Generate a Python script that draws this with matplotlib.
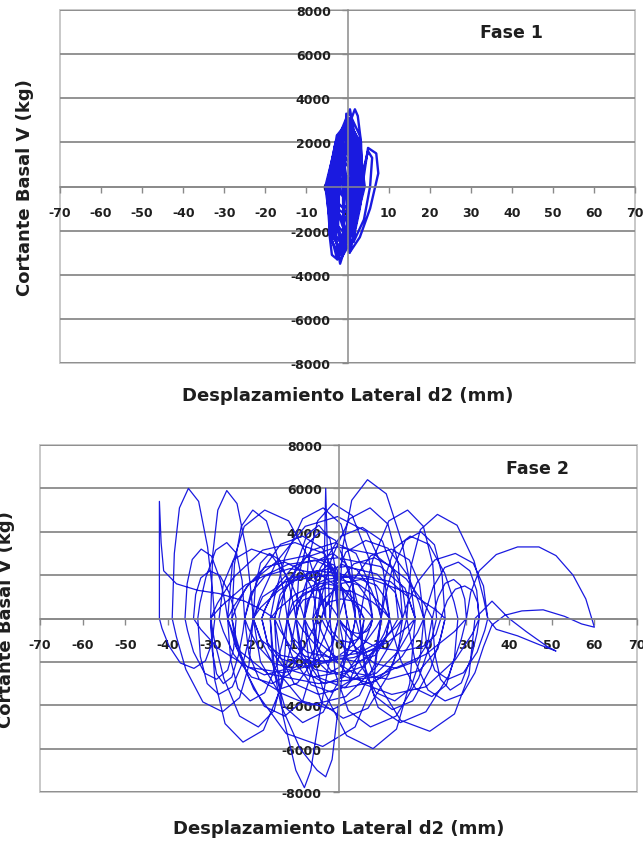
import matplotlib
matplotlib.use('Agg')
import matplotlib.pyplot as plt
from matplotlib.patches import Rectangle

plt.rcParams['font.family'] = ['DejaVu Sans']

# ---------------- data ----------------
x_ticks = list(range(-70, 71, 10))
y_ticks = list(range(-8000, 8001, 2000))
x_label = 'Desplazamiento Lateral d2 (mm)'
y_label = 'Cortante Basal V (kg)'
phase_labels = ['Fase 1', 'Fase 2']

# Fase 1: lateral displacement d2 (mm) and base shear V (kg), loop by loop
d1 = [0.5, 3.0, 3.4, 1.4, -1.7, -4.2, -4.6, -2.6,
      0.4, 2.55, 2.9, 1.15, -1.6, -3.75, -4.1, -2.35,
      0.3, 3.2, 3.9, 1.9, -1.5, -4.4, -5.1, -3.1,
      0.6, 1.6, 1.4, 0, -1.8, -2.8, -2.6, -1.2,
      0.1, 3.2, 4.2, 2.3, -1.3, -4.4, -5.4, -3.5,
      0.4, 2.1, 2.2, 0.6, -1.6, -3.3, -3.4, -1.8,
      -0.5, 0.8, 1.8, 2.5, 3.3, 3.5, 2.5, 0.5, -1, -0.5,
      -0.1, 2.4, 3.2, 1.7, -1.1, -3.6, -4.4, -2.9,
      0.3, 1.1, 0.9, -0.2, -1.5, -2.3, -2.1, -1.0,
      0.5, 3, 5.5, 7.5, 7, 5, 4, 3, 1.5, 0.5,
      0.2, 2.0, 2.4, 1.0, -1.4, -3.2, -3.6, -2.2,
      -0.3, 1.4, 1.9, 0.9, -0.9, -2.6, -3.1, -2.1,
      0, 0.9, 0.9, 0, -1.2, -2.1, -2.1, -1.2,
      -1, -2.5, -3.8, -4.5, -3, -1, 0, -1,
      -0.3, 1.1, 1.1, -0.4, -2.5, -3.9, -3.9, -2.4,
      1.1, 2.9, 3.2, 1.7, -0.7, -2.5, -2.8, -1.3,
      1.5, 4, 5.5, 6, 5, 3.5, 2, 1.5,
      0.4, 3.0, 3.6, 1.7, -1.6, -4.2, -4.8, -2.9,
      0.2, 1.5, 1.6, 0.4, -1.4, -2.7, -2.8, -1.6,
      -0.2, 2.6, 3.6, 2.1, -1.0, -3.8, -4.8, -3.3,
      -0.4, 0.4, 0.6, 0.1, -0.8, -1.6, -1.8, -1.3, -0.4]
v1 = [3300, 2310, 0, -2310, -3300, -2310, 0, 2310,
      3000, 2100, 0, -2100, -3000, -2100, 0, 2100,
      2600, 1820, 0, -1820, -2600, -1820, 0, 1820,
      3500, 2450, 0, -2450, -3500, -2450, 0, 2450,
      2000, 1400, 0, -1400, -2000, -1400, 0, 1400,
      3100, 2170, 0, -2170, -3100, -2170, 0, 2170,
      1500, 3000, 3500, 3200, 2000, 500, -800, -500, 800, 1500,
      1500, 1050, 0, -1050, -1500, -1050, 0, 1050,
      2800, 1960, 0, -1960, -2800, -1960, 0, 1960,
      -3000, -2300, -1000, 600, 1500, 1750, 500, -1000, -2300, -3000,
      2300, 1610, 0, -1610, -2300, -1610, 0, 1610,
      1000, 700, 0, -700, -1000, -700, 0, 700,
      1800, 1260, 0, -1260, -1800, -1260, 0, 1260,
      -2000, -3300, -3100, -2000, -1000, -1500, -2500, -2000,
      3300, 2310, 0, -2310, -3300, -2310, 0, 2310,
      2700, 1890, 0, -1890, -2700, -1890, 0, 1890,
      -2500, -1500, 0, 1300, 1600, 500, -1200, -2500,
      2900, 2030, 0, -2030, -2900, -2030, 0, 2030,
      2400, 1680, 0, -1680, -2400, -1680, 0, 1680,
      1200, 840, 0, -840, -1200, -840, 0, 840,
      500, 350, 0, -350, -500, -350, 0, 350, 500]

# Fase 2, half-cycle by half-cycle
d2 = [0,
      -0.3, -1, -2.3, -3.7, -5, -5.7, -6,
      -5.5, -4.3, -2.2, 0.2, 2.3, 3.5, 4,
      3.3, 1.6, -1.3, -4.7, -7.6, -9.3, -10,
      -9.1, -7, -3.2, 1.2, 4.9, 7.1, 8,
      6.9, 4.1, -0.7, -6.3, -11.1, -13.9, -15,
      -13.7, -10.4, -4.7, 1.7, 7.4, 10.7, 12,
      10.4, 6.6, -0.2, -7.8, -14.6, -18.4, -20,
      -18.3, -14, -6.7, 1.7, 9, 13.3, 15,
      14, 11.6, 7.4, 2.6, -1.6, -4, -5,
      -6, -8.4, -12.6, -17.4, -21.6, -24, -25,
      -24.4, -22.8, -20.1, -16.9, -14.2, -12.7, -12,
      -12.9, -15.1, -18.8, -23.2, -26.9, -29.1, -30,
      -29.5, -28.3, -26.2, -23.8, -21.7, -20.5, -20,
      -21, -23.2, -27.2, -31.8, -35.8, -38, -39,
      -38.5, -37.3, -35.2, -32.8, -30.7, -29.5, -29,
      -29.7, -31.2, -33.9, -37.1, -39.8, -41.4, -42,
      -42, -42, -41.6, -41, -38, -33, -28, -22, -18, -15,
      -14.5, -13, -10, -8, -6.5, -4.5, -2, 0,
      0.9, 3.1, 6.8, 11.2, 14.9, 17.1, 18,
      16.7, 13.6, 8.1, 1.9, -3.6, -6.7, -8,
      -7.1, -4.9, -1.2, 3.2, 6.9, 9.1, 10,
      8.2, 3.9, -3.7, -12.3, -19.9, -24.2, -26,
      -24.9, -22.1, -17.3, -11.7, -6.9, -4.2, -3,
      -3.3, -3, -2.6, -2,
      -0.8, 2.3, 7.5, 13.5, 18.8, 21.8, 23,
      22.1, 19.9, 16.2, 11.8, 8.1, 5.9, 5,
      6.3, 9.3, 14.5, 20.5, 25.8, 28.8, 30,
      31, 33, 37, 42, 47, 51, 55, 58, 60,
      57, 53, 48, 43, 39, 36, 34, 32, 29, 25, 21, 18, 16,
      17, 19.2, 23.2, 27.8, 31.8, 34, 35,
      37, 42, 47, 51, 49, 44, 40, 36, 32,
      30.6, 27.2, 21.4, 14.6, 8.8, 5.4, 4,
      3, 0.6, -3.6, -8.4, -12.6, -15, -16,
      -15.5, -13.5, -9, -5, -3, -1.5, 0, 1.5, 2,
      0.4, -3.4, -10.2, -17.8, -24.6, -28.4, -30,
      -29, -26.6, -22.4, -17.6, -13.4, -11, -10,
      -9.3, -7.5, -4.3, -0.7, 2.5, 4.3, 5,
      6, 8.4, 12.6, 17.4, 21.6, 24, 25,
      24.3, 22.5, 19.3, 15.7, 12.5, 10.7, 10,
      8.5, 4.9, -1.4, -8.6, -14.9, -18.5, -20,
      -19.5, -18.3, -16.2, -13.8, -11.7, -10.5, -10,
      -8.5, -4.9, 1.4, 8.6, 14.9, 18.5, 20,
      19, 16.6, 12.4, 7.6, 3.4, 1, 0,
      1.7, 5.6, 12.5, 20.5, 27.4, 31.4, 33,
      32.4, 30.8, 28.1, 24.9, 22.2, 20.7, 20,
      20.8, 22.6, 25.7, 29.3, 32.5, 34.3, 35,
      34, 31.6, 27.4, 22.6, 18.4, 16, 15,
      14, 11.6, 7.4, 2.6, -1.6, -4, -5,
      -6, -8.4, -12.6, -17.4, -21.6, -24, -25,
      -24, -21.6, -17.4, -12.6, -8.4, -6, -5,
      -4.3, -2.5, 0.7, 4.3, 7.5, 9.3, 10,
      8.8, 5.8, 0.5, -5.5, -10.8, -13.8, -15,
      -13.7, -10.4, -4.7, 1.7, 7.4, 10.7, 12,
      11, 8.6, 4.4, -0.4, -4.6, -7, -8,
      -7.3, -5.6, -2.7, 0.7, 3.6, 5.3, 6,
      5.5, 4.5, 2.6, 0.4, -1.5, -2.6, -3,
      -3.8, -5.6, -8.7, -12.3, -15.5, -17.3, -18,
      -16.7, -13.6, -8.1, -1.9, 3.6, 6.7, 8,
      7, 4.6, 0.4, -4.4, -8.6, -11, -12,
      -10.7, -7.4, -1.7, 4.7, 10.4, 13.7, 15,
      13.3, 9, 1.7, -6.7, -14, -18.3, -20,
      -18.1, -13.5, -5.6, 3.6, 11.5, 16.1, 18,
      15.6, 9.8, -0.2, -11.8, -21.8, -27.6, -30,
      -29.6, -28.6, -27, -25, -23.4, -22.4, -22,
      -22.6, -23.9, -26.2, -28.8, -31.1, -32.5, -33,
      -32.4, -30.8, -28.1, -24.9, -22.2, -20.7, -20,
      -17.8, -12.4, -2.9, 7.9, 17.4, 22.8, 25,
      23.3, 19, 11.7, 3.3, -4, -8.3, -10,
      -9.5, -8.3, -6.2, -3.8, -1.7, -0.5, 0,
      -1.1, -3.7, -8.4, -13.6, -18.3, -20.9, -22,
      -21, -18.6, -14.4, -9.6, -5.4, -3, -2,
      -0.9, 1.7, 6.4, 11.6, 16.3, 18.9, 20,
      19.1, 16.9, 13.2, 8.8, 5.1, 2.9, 2,
      1, -1.4, -5.6, -10.4, -14.6, -17, -18,
      -16.4, -12.6, -5.8, 1.8, 8.6, 12.4, 14,
      12.9, 10.3, 5.6, 0.4, -4.3, -6.9, -8,
      -9, -11.4, -15.6, -20.4, -24.6, -27, -28,
      -27, -24.6, -20.4, -15.6, -11.4, -9, -8,
      -6.8, -3.9, 1.1, 6.9, 11.9, 14.8, 16,
      15, 12.6, 8.4, 3.6, -0.6, -3, -4,
      -4.9, -7.1, -10.8, -15.2, -18.9, -21.1, -22,
      -20.6, -17.2, -11.4, -4.6, 1.2, 4.6, 6,
      5, 2.6, -1.6, -6.4, -10.6, -13, -14,
      -12.2, -7.9, -0.3, 8.3, 15.9, 20.2, 22,
      20.9, 18.3, 13.6, 8.4, 3.7, 1.1, 0,
      -0.6, -2, -4.6, -7.4, -10, -11.4, -12,
      -10.9, -8.3, -3.6, 1.6, 6.3, 8.9, 10,
      10.9, 13.1, 16.8, 21.2, 24.9, 27.1, 28,
      27.2, 25.3, 21.9, 18.1, 14.7, 12.8, 12,
      11.1, 8.9, 5.2, 0.8, -2.9, -5.1, -6,
      -4.8, -1.9, 3.1, 8.9, 13.9, 16.8, 18,
      16.3, 12.2, 5.1, -3.1, -10.2, -14.3, -16,
      -15, -12.6, -8.4, -3.6, 0.6, 3, 4,
      2.5, -1.1, -7.4, -14.6, -20.9, -24.5, -26,
      -25.3, -23.6, -20.7, -17.3, -14.4, -12.7, -12,
      -10.8, -7.9, -2.9, 2.9, 7.9, 10.8, 12,
      11.2, 9.3, 5.9, 2.1, -1.3, -3.2, -4,
      -3.4, -2, 0.6, 3.4, 6, 7.4, 8,
      7.6, 6.6, 5, 3, 1.4, 0.4, 0,
      -1.7, -5.8, -12.9, -21.1, -28.2, -32.3, -34,
      -33.5, -32.3, -30.2, -27.8, -25.7, -24.5, -24,
      -24.6, -26, -28.6, -31.4, -34, -35.4, -36,
      -35.5, -34.3, -32.2, -29.8, -27.7, -26.5, -26,
      -23.2, -16.5, -4.7, 8.7, 20.5, 27.2, 30,
      29.6, 28.6, 27, 25, 23.4, 22.4, 22,
      22.6, 23.9, 26.2, 28.8, 31.1, 32.5, 33,
      32.6, 31.5, 29.6, 27.4, 25.5, 24.5, 24,
      22.8, 19.9, 14.9, 9.1, 4.1, 1.2, 0]
v2 = [0,
      1250, 2100, 2500, 2250, 1400, 500, 0,
      -1250, -2100, -2500, -2250, -1400, -500, 0,
      1500, 2550, 3000, 2700, 1650, 600, 0,
      -1500, -2550, -3000, -2700, -1650, -600, 0,
      1750, 3000, 3500, 3150, 1900, 700, 0,
      -1750, -3000, -3500, -3150, -1900, -700, 0,
      2350, 4000, 4700, 4250, 2600, 950, 0,
      -2000, -3400, -4000, -3600, -2200, -800, 0,
      2550, 4350, 5100, 4600, 2800, 1000, 0,
      -2250, -3800, -4500, -4050, -2500, -900, 0,
      2500, 4250, 5000, 4500, 2750, 1000, 0,
      -2500, -4250, -5000, -4500, -2750, -1000, 0,
      2950, 5000, 5900, 5300, 3250, 1200, 0,
      -2150, -3650, -4300, -3850, -2350, -850, 0,
      3000, 5100, 6000, 5400, 3300, 1200, 0,
      -1150, -1950, -2300, -2050, -1250, -450, 0,
      2500, 5400, 3500, 2200, 1600, 1300, 1150, 800, 400, 0,
      -2000, -4500, -7000, -7800, -7000, -4500, -1800, 0,
      3200, 5450, 6400, 5750, 3500, 1300, 0,
      -3000, -5100, -6000, -5400, -3300, -1200, 0,
      2650, 4500, 5300, 4750, 2900, 1050, 0,
      -2950, -5000, -5900, -5300, -3250, -1200, 0,
      2500, 4250, 5000, 4500, 2750, 1000, 0,
      3000, 6000, 3000, 0,
      -2500, -4250, -5000, -4500, -2750, -1000, 0,
      2500, 4250, 5000, 4500, 2750, 1000, 0,
      -2400, -4100, -4800, -4300, -2650, -950, 0,
      1200, 2200, 2950, 3300, 3300, 2900, 2000, 900, -400,
      -250, 100, 400, 350, 150, -300, -1300, -2500, -3500, -3800, -3300, -2000, 0,
      2400, 4100, 4800, 4300, 2650, 950, 0,
      -500, -800, -1200, -1500, -1300, -600, 0, 800, 0,
      -2600, -4400, -5200, -4700, -2850, -1050, 0,
      2550, 4350, 5100, 4600, 2800, 1000, 0,
      -2000, -4000, -6000, -7000, -7300, -6500, -4000, -1500, 0,
      1750, 3000, 3500, 3150, 1900, 700, 0,
      -2850, -4850, -5700, -5150, -3150, -1150, 0,
      2000, 3400, 4000, 3600, 2200, 800, 0,
      -2100, -3550, -4200, -3800, -2300, -850, 0,
      2000, 3400, 4000, 3600, 2200, 800, 0,
      -2100, -3550, -4200, -3800, -2300, -850, 0,
      1500, 2550, 3000, 2700, 1650, 600, 0,
      -1600, -2700, -3200, -2900, -1750, -650, 0,
      1600, 2700, 3200, 2900, 1750, 650, 0,
      -1750, -3000, -3500, -3150, -1900, -700, 0,
      1300, 2200, 2600, 2350, 1450, 500, 0,
      -1400, -2400, -2800, -2500, -1550, -550, 0,
      1500, 2550, 3000, 2700, 1650, 600, 0,
      -1500, -2550, -3000, -2700, -1650, -600, 0,
      1300, 2200, 2600, 2350, 1450, 500, 0,
      -1300, -2200, -2600, -2350, -1450, -500, 0,
      1250, 2100, 2500, 2250, 1400, 500, 0,
      -1300, -2200, -2600, -2350, -1450, -500, 0,
      1100, 1850, 2200, 2000, 1200, 450, 0,
      -1000, -1700, -2000, -1800, -1100, -400, 0,
      800, 1350, 1600, 1450, 900, 300, 0,
      -550, -950, -1100, -1000, -600, -200, 0,
      1000, 1700, 2000, 1800, 1100, 400, 0,
      -1100, -1850, -2200, -2000, -1200, -450, 0,
      900, 1550, 1800, 1600, 1000, 350, 0,
      -900, -1550, -1800, -1600, -1000, -350, 0,
      1200, 2050, 2400, 2150, 1300, 500, 0,
      -1000, -1700, -2000, -1800, -1100, -400, 0,
      1400, 2400, 2800, 2500, 1550, 550, 0,
      -1500, -2550, -3000, -2700, -1650, -600, 0,
      1750, 3000, 3500, 3150, 1900, 700, 0,
      -1750, -3000, -3500, -3150, -1900, -700, 0,
      1000, 1700, 2000, 1800, 1100, 400, 0,
      -1400, -2400, -2800, -2500, -1550, -550, 0,
      500, 850, 1000, 900, 550, 200, 0,
      1900, 3230, 3800, 3420, 2090, 760, 0,
      -1650, -2800, -3300, -2970, -1820, -660, 0,
      1800, 3060, 3600, 3240, 1980, 720, 0,
      -1900, -3230, -3800, -3420, -2090, -760, 0,
      1350, 2300, 2700, 2430, 1490, 540, 0,
      -1350, -2300, -2700, -2430, -1490, -540, 0,
      2100, 3570, 4200, 3780, 2310, 840, 0,
      -1500, -2550, -3000, -2700, -1650, -600, 0,
      1600, 2720, 3200, 2880, 1760, 640, 0,
      -2300, -3910, -4600, -4140, -2530, -920, 0,
      1400, 2380, 2800, 2520, 1540, 560, 0,
      -1150, -1960, -2300, -2070, -1270, -460, 0,
      1150, 1960, 2300, 2070, 1270, 460, 0,
      -1700, -2890, -3400, -3060, -1870, -680, 0,
      1650, 2800, 3300, 2970, 1820, 660, 0,
      -1150, -1960, -2300, -2070, -1270, -460, 0,
      2150, 3660, 4300, 3870, 2370, 860, 0,
      -1000, -1700, -2000, -1800, -1100, -400, 0,
      1900, 3230, 3800, 3420, 2090, 760, 0,
      -1800, -3060, -3600, -3240, -1980, -720, 0,
      900, 1530, 1800, 1620, 990, 360, 0,
      -1400, -2380, -2800, -2520, -1540, -560, 0,
      1000, 1700, 2000, 1800, 1100, 400, 0,
      -2400, -4080, -4800, -4320, -2640, -960, 0,
      1450, 2470, 2900, 2610, 1600, 580, 0,
      -1900, -3230, -3800, -3420, -2090, -760, 0,
      700, 1190, 1400, 1260, 770, 280, 0,
      -800, -1360, -1600, -1440, -880, -320, 0,
      450, 770, 900, 810, 500, 180, 0,
      -350, -600, -700, -630, -390, -140, 0,
      -1250, -2130, -2500, -2250, -1380, -500, 0,
      1100, 1870, 2200, 1980, 1210, 440, 0,
      -1400, -2380, -2800, -2520, -1540, -560, 0,
      1600, 2720, 3200, 2880, 1760, 640, 0,
      -1500, -2550, -3000, -2700, -1650, -600, 0,
      900, 1530, 1800, 1620, 990, 360, 0,
      -1650, -2800, -3300, -2970, -1820, -660, 0,
      750, 1280, 1500, 1350, 830, 300, 0,
      -750, -1280, -1500, -1350, -830, -300, 0]

# ---------------- figure ----------------
W, H = 643, 845
fig = plt.figure(figsize=(W / 100, H / 100), dpi=100)
fig.patch.set_facecolor('white')


def px_axes(l, t, r, b):
    return fig.add_axes([l / W, 1 - b / H, (r - l) / W, (b - t) / H])


panels = [
    dict(box=(60, 11, 635, 364), d=d1, v=v1, lw=1.7, xlab_y=396, ylab_x=25,
         fase=(512, 33), label=phase_labels[0]),
    dict(box=(40, 446, 637, 793), d=d2, v=v2, lw=0.9, xlab_y=829, ylab_x=6.5,
         fase=(537, 469), label=phase_labels[1]),
]

grid_c = '#8a8a8a'
text_c = '#1e1e1e'
line_c = '#1a1ae0'

for p in panels:
    ax = px_axes(*p['box'])
    ax.set_xlim(-70, 70)
    ax.set_ylim(-8000, 8000)
    ax.set_facecolor('white')

    for s in ('top', 'right'):
        ax.spines[s].set_visible(False)
    ax.spines['left'].set_position(('data', 0))
    ax.spines['bottom'].set_position(('data', 0))
    for s in ('left', 'bottom'):
        ax.spines[s].set_color(grid_c)
        ax.spines[s].set_linewidth(1.1)
    ax.add_patch(Rectangle((0, 0), 1, 1, transform=ax.transAxes, fill=False,
                           ec='#c4c4c4', lw=1.3, clip_on=False, zorder=0.5))

    ax.yaxis.grid(True, color=grid_c, lw=1.3)
    ax.xaxis.grid(False)
    ax.set_axisbelow(True)

    ax.set_xticks(x_ticks)
    ax.set_xticklabels([str(t) for t in x_ticks], fontweight='bold',
                       fontsize=9, color=text_c)
    ax.set_yticks(y_ticks)
    ax.set_yticklabels([str(t) for t in y_ticks], fontweight='bold',
                       fontsize=9, color=text_c)
    ax.tick_params(axis='x', direction='out', length=4, width=1,
                   color=grid_c, pad=10)
    ax.tick_params(axis='y', direction='out', length=4, width=1,
                   color=grid_c, pad=8)

    ax.plot(p['d'], p['v'], color=line_c, lw=p['lw'], zorder=2,
            solid_joinstyle='round')

    cx = (p['box'][0] + p['box'][2]) / 2
    fig.text(cx / W, 1 - p['xlab_y'] / H, x_label, ha='center', va='center',
             fontsize=13, fontweight='bold', color=text_c)
    cy = (p['box'][1] + p['box'][3]) / 2
    fig.text(p['ylab_x'] / W, 1 - cy / H, y_label, ha='center', va='center',
             rotation=90, fontsize=13, fontweight='bold', color=text_c)
    fig.text(p['fase'][0] / W, 1 - p['fase'][1] / H, p['label'],
             ha='center', va='center', fontsize=12.5, fontweight='bold',
             color=text_c)

fig.savefig('out.png', dpi=100, facecolor='white')
